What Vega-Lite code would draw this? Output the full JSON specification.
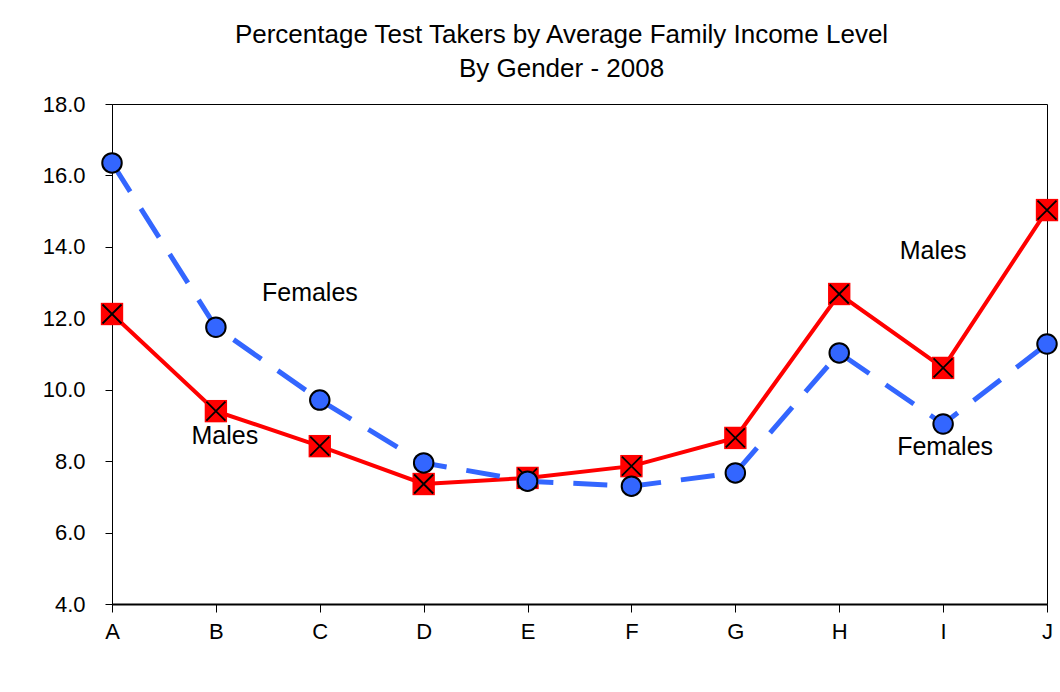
{
  "$schema": "https://vega.github.io/schema/vega-lite/v6.json",
  "width": 935,
  "height": 500,
  "autosize": {"type": "none"},
  "padding": {"left": 112, "top": 104, "right": 13, "bottom": 88},
  "background": "white",
  "title": {
    "text": ["Percentage Test Takers by Average Family Income Level", "By Gender - 2008"],
    "font": "Liberation Sans",
    "fontSize": 26,
    "fontWeight": "normal",
    "color": "black",
    "lineHeight": 34,
    "offset": 11,
    "anchor": "middle",
    "dx": -18
  },
  "config": {
    "view": {"stroke": "black", "strokeWidth": 1},
    "axis": {
      "labelFont": "Liberation Sans",
      "labelColor": "black",
      "domainColor": "black",
      "tickColor": "black",
      "grid": false,
      "title": null
    },
    "text": {"font": "Liberation Sans"}
  },
  "datasets": {
    "series": [
      {"group": "A", "series": "Females", "value": 16.35},
      {"group": "B", "series": "Females", "value": 11.75},
      {"group": "C", "series": "Females", "value": 9.71},
      {"group": "D", "series": "Females", "value": 7.95},
      {"group": "E", "series": "Females", "value": 7.44},
      {"group": "F", "series": "Females", "value": 7.30},
      {"group": "G", "series": "Females", "value": 7.67},
      {"group": "H", "series": "Females", "value": 11.03},
      {"group": "I", "series": "Females", "value": 9.04},
      {"group": "J", "series": "Females", "value": 11.28},
      {"group": "A", "series": "Males", "value": 12.12},
      {"group": "B", "series": "Males", "value": 9.40},
      {"group": "C", "series": "Males", "value": 8.42},
      {"group": "D", "series": "Males", "value": 7.36},
      {"group": "E", "series": "Males", "value": 7.53},
      {"group": "F", "series": "Males", "value": 7.86},
      {"group": "G", "series": "Males", "value": 8.65},
      {"group": "H", "series": "Males", "value": 12.68},
      {"group": "I", "series": "Males", "value": 10.61},
      {"group": "J", "series": "Males", "value": 15.03}
    ],
    "notes": [
      {"group": "B", "value": 12.71, "label": "Females", "shift": 94},
      {"group": "B", "value": 8.70, "label": "Males", "shift": 9},
      {"group": "I", "value": 13.88, "label": "Males", "shift": -10},
      {"group": "I", "value": 8.40, "label": "Females", "shift": 2}
    ]
  },
  "encoding": {
    "x": {
      "field": "group",
      "type": "ordinal",
      "scale": {"type": "point", "padding": 0, "domain": ["A","B","C","D","E","F","G","H","I","J"]},
      "axis": {"labelAngle": 0, "labelFontSize": 22, "tickSize": 8, "labelPadding": 9, "domainWidth": 2}
    },
    "y": {
      "field": "value",
      "type": "quantitative",
      "scale": {"domain": [4, 18], "nice": false, "zero": false},
      "axis": {"values": [4, 6, 8, 10, 12, 14, 16, 18], "format": ".1f", "labelFontSize": 22, "tickSize": 7, "labelPadding": 20}
    }
  },
  "layer": [
    {
      "data": {"name": "series"},
      "transform": [{"filter": "datum.series == 'Males'"}],
      "mark": {"type": "line", "color": "#FF0000", "strokeWidth": 4}
    },
    {
      "data": {"name": "series"},
      "transform": [{"filter": "datum.series == 'Males'"}],
      "mark": {"type": "point", "shape": "square", "filled": true, "fill": "#FF0000", "strokeWidth": 0, "size": 500, "opacity": 1}
    },
    {
      "data": {"name": "series"},
      "transform": [{"filter": "datum.series == 'Males'"}],
      "mark": {"type": "point", "shape": "M-0.85,-0.85L0.85,0.85M0.85,-0.85L-0.85,0.85", "filled": false, "stroke": "black", "strokeWidth": 1.8, "size": 500, "opacity": 1}
    },
    {
      "data": {"name": "series"},
      "transform": [{"filter": "datum.series == 'Females'"}],
      "mark": {"type": "line", "color": "#3366FF", "strokeWidth": 5, "strokeDash": [34, 20]}
    },
    {
      "data": {"name": "series"},
      "transform": [{"filter": "datum.series == 'Females'"}],
      "mark": {"type": "point", "shape": "circle", "filled": true, "fill": "#3366FF", "stroke": "black", "strokeWidth": 2, "size": 380, "opacity": 1}
    },
    {
      "data": {"name": "notes"},
      "mark": {"type": "text", "fontSize": 25, "color": "black", "align": "center", "baseline": "middle"},
      "encoding": {
        "text": {"field": "label"},
        "xOffset": {"field": "shift", "type": "quantitative", "scale": null}
      }
    }
  ]
}
